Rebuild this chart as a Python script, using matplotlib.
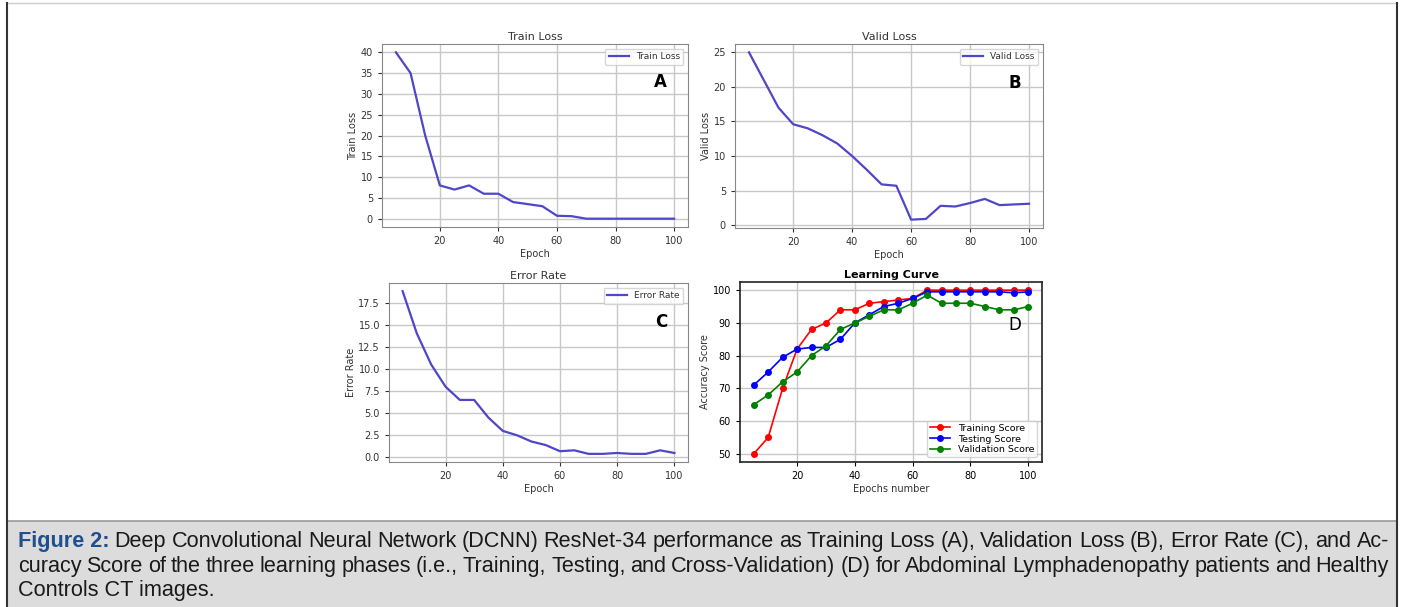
import matplotlib
matplotlib.use('Agg')
import matplotlib.pyplot as plt
from matplotlib.patches import Rectangle

# epochs shared by all panels
epochs = list(range(5, 101, 5))

train_loss = [40, 35, 20, 8, 7, 8, 6, 6, 4, 3.5, 3, 0.7, 0.6, 0, 0, 0, 0, 0, 0, 0]
valid_loss = [25, 21, 17, 14.6, 14, 13, 11.8, 10, 8, 5.9, 5.7, 0.8, 0.9, 2.8, 2.7, 3.2, 3.8, 2.9, 3.0, 3.1]
error_rate = [18.8, 14, 10.5, 8, 6.5, 6.5, 4.5, 3, 2.5, 1.8, 1.4, 0.7, 0.8, 0.4, 0.4, 0.5, 0.4, 0.4, 0.8, 0.5]

training_score = [50, 55, 70, 82, 88, 90, 94, 94, 96, 96.5, 97, 97.5, 100, 100, 100, 100, 100, 100, 100, 100]
testing_score = [71, 75, 79.5, 82, 82.5, 82.5, 85, 90, 92.5, 95, 96, 97.5, 99.5, 99.5, 99.5, 99.5, 99.5, 99.5, 99.2, 99.5]
validation_score = [65, 68, 72, 75, 80, 83, 88, 90, 92, 94, 94, 96, 98.5, 96, 96, 96, 95, 94, 94, 95]

caption_head = "Figure 2:"
caption_lines = [
    "Deep Convolutional Neural Network (DCNN) ResNet-34 performance as Training Loss (A), Validation Loss (B), Error Rate (C), and Ac-",
    "curacy Score of the three learning phases (i.e., Training, Testing, and Cross-Validation) (D) for Abdominal Lymphadenopathy patients and Healthy",
    "Controls CT images.",
]

W, H = 1404, 607
fig = plt.figure(figsize=(W / 100, H / 100), dpi=100)


def rect(l, t, r, b):
    return [l / W, 1 - b / H, (r - l) / W, (b - t) / H]


# outer frame and caption box
bg = fig.add_axes([0, 0, 1, 1])
bg.set_xlim(0, W)
bg.set_ylim(H, 0)
bg.axis('off')
bg.add_patch(Rectangle((7, 521), 1390, 90, facecolor='#dcdcdc', edgecolor='none'))
bg.plot([7, 1397], [521, 521], color='#9a9a9a', lw=1.2)
bg.plot([7, 1397], [3, 3], color='#cfcfcf', lw=1)
bg.plot([7, 7], [3, 607], color='#333333', lw=1.5)
bg.plot([1397, 1397], [3, 607], color='#333333', lw=1.5)

line_col = '#5046c8'
tick_fs = 7
lab_fs = 7


def loss_panel(pos, y, title, ylabel, letter, lx, ly):
    ax = fig.add_axes(rect(*pos))
    ax.plot(epochs, y, color=line_col, lw=1.6, label=title)
    ax.set_title(title, fontsize=8, pad=3, color='#333333')
    ax.set_xlabel('Epoch', fontsize=lab_fs, labelpad=2, color='#333333')
    ax.set_ylabel(ylabel, fontsize=lab_fs, labelpad=2, color='#333333')
    ax.set_xticks([20, 40, 60, 80, 100])
    ax.tick_params(labelsize=tick_fs, colors='#333333', length=3)
    ax.grid(True, color='#c8c8c8', lw=1)
    for s in ax.spines.values():
        s.set_color('#888888')
    ax.legend(loc='upper right', fontsize=6.5, handlelength=2.2, borderpad=0.4,
              labelcolor='#333333')
    ax.text(lx, ly, letter, transform=ax.transAxes, fontsize=12, fontweight='bold',
            ha='center', va='center')
    return ax


axA = loss_panel((382, 44, 688, 227), train_loss, 'Train Loss', 'Train Loss', 'A', 0.91, 0.79)
axA.set_yticks(range(0, 41, 5))
axB = loss_panel((735, 44, 1043, 228), valid_loss, 'Valid Loss', 'Valid Loss', 'B', 0.91, 0.79)
axB.set_yticks(range(0, 26, 5))
axC = loss_panel((389, 283, 688, 462), error_rate, 'Error Rate', 'Error Rate', 'C', 0.91, 0.78)
axC.set_yticks([0, 2.5, 5, 7.5, 10, 12.5, 15, 17.5])

# learning curve
axD = fig.add_axes(rect(740, 282, 1042, 462))
axD.plot(epochs, training_score, 'o-', color='red', ms=4, lw=1.2, label='Training Score')
axD.plot(epochs, testing_score, 'o-', color='blue', ms=4, lw=1.2, label='Testing Score')
axD.plot(epochs, validation_score, 'o-', color='green', ms=4, lw=1.2, label='Validation Score')
axD.set_title('Learning Curve', fontsize=8, fontweight='bold', pad=3)
axD.set_xlabel('Epochs number', fontsize=lab_fs, labelpad=2, color='#333333')
axD.set_ylabel('Accuracy Score', fontsize=lab_fs, labelpad=2, color='#333333')
axD.set_xticks([20, 40, 60, 80, 100])
axD.set_yticks(range(50, 101, 10))
axD.tick_params(labelsize=tick_fs, length=3)
axD.grid(True, color='#c8c8c8', lw=1)
for s in axD.spines.values():
    s.set_color('#222222')
    s.set_linewidth(1.2)
axD.legend(loc='lower right', fontsize=6.8, handlelength=2.2, borderpad=0.3,
           labelspacing=0.2)
axD.text(0.91, 0.76, 'D', transform=axD.transAxes, fontsize=12, ha='center', va='center')

# caption, justified between x0 and x1
cap_font = ['Liberation Sans', 'DejaVu Sans']
cap_fs = 15.6
x0, x1 = 18, 1389
fig.canvas.draw()
renderer = fig.canvas.get_renderer()


def width(t):
    return t.get_window_extent(renderer).width


def justified(words, y, start, bold_first=False):
    items = []
    for i, w in enumerate(words):
        if bold_first and i == 0:
            t = bg.text(0, y, w, fontsize=cap_fs, fontweight='bold', color='#1f4f8f',
                        family=cap_font, va='baseline')
        else:
            t = bg.text(0, y, w, fontsize=cap_fs, color='#1a1a1a', family=cap_font,
                        va='baseline')
        items.append(t)
    total = sum(width(t) for t in items)
    gap = (x1 - start - total) / (len(items) - 1)
    x = start
    for t in items:
        t.set_x(x)
        x += width(t) + gap


line0 = [caption_head] + caption_lines[0].split(' ')
justified(line0, 547, x0, bold_first=True)
justified(caption_lines[1].split(' '), 572, x0)
bg.text(x0, 596, caption_lines[2], fontsize=cap_fs, color='#1a1a1a', family=cap_font,
        va='baseline')

fig.savefig('out.png', dpi=100)
